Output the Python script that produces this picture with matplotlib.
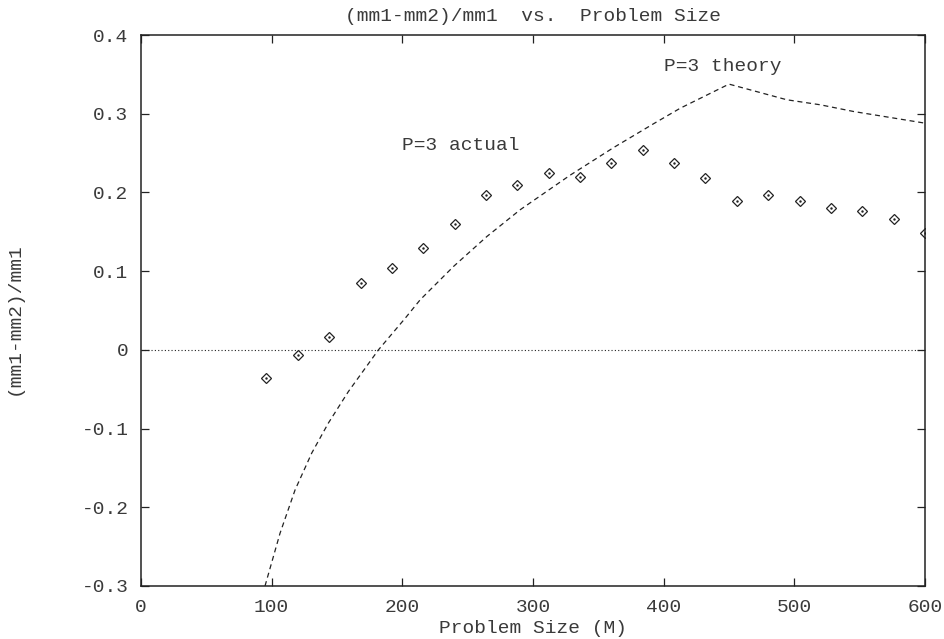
#!/usr/bin/env python3
"""Relative speedup of mm2 over mm1 against problem size, P=3 measured vs model."""
import matplotlib
matplotlib.use("Agg")
import matplotlib.pyplot as plt

# measured runs (problem size in M)
sizes = [96, 120, 144, 168, 192, 216, 240, 264, 288, 312, 336,
         360, 384, 408, 432, 456, 480, 504, 528, 552, 576, 600]
actual = [-0.036, -0.007, 0.016, 0.085, 0.104, 0.130, 0.160, 0.197, 0.209, 0.225, 0.220,
          0.237, 0.254, 0.238, 0.218, 0.189, 0.197, 0.189, 0.180, 0.177, 0.166, 0.149]

# model curve, sampled
theory_x = [94.9, 106.4, 117.9, 130.7, 143.4, 158.7, 181.7, 202.1, 213.6, 239.2, 264.7,
            290.2, 328.5, 361.7, 392, 412.7, 439.5, 450, 494.3, 520, 545.4, 600]
theory_y = [-0.300, -0.233, -0.178, -0.131, -0.093, -0.053, 0.0, 0.040, 0.0635, 0.106, 0.144,
            0.178, 0.222, 0.257, 0.287, 0.307, 0.329, 0.3376, 0.3177, 0.3113, 0.3028, 0.288]

xticks = [0, 100, 200, 300, 400, 500, 600]
yticks = [-0.3, -0.2, -0.1, 0, 0.1, 0.2, 0.3, 0.4]
yticklabels = ["-0.3", "-0.2", "-0.1", "0", "0.1", "0.2", "0.3", "0.4"]

TXT = "#3a3a3a"
INK = "#222222"
plt.rcParams["font.family"] = ["Liberation Mono", "DejaVu Sans Mono"]
plt.rcParams["font.size"] = 14

fig = plt.figure(figsize=(9.45, 6.39), dpi=100)
ax = fig.add_axes([141 / 945, 53 / 639, 784 / 945, 551 / 639])

ax.axhline(0, color=INK, ls=(0, (1, 2)), lw=0.8)
ax.plot(theory_x, theory_y, color=INK, lw=0.9, ls=(0, (4, 3)))
ax.plot(sizes, actual, ls="none", marker="D", ms=4.6, mfc="none", mec=INK, mew=0.9)
ax.plot(sizes, actual, ls="none", marker=".", ms=1.5, color=INK)

ax.text(200, 0.26, "P=3 actual", color=TXT, ha="left", va="center")
ax.text(400, 0.36, "P=3 theory", color=TXT, ha="left", va="center")

ax.set_xlim(0, 600)
ax.set_ylim(-0.3, 0.4)
ax.set_xticks(xticks)
ax.set_yticks(yticks)
ax.set_yticklabels(yticklabels)
ax.tick_params(direction="in", length=5.8, width=0.9, top=True, right=True,
               colors=INK, labelcolor=TXT, pad=9)
for s in ax.spines.values():
    s.set_linewidth(1.1)
    s.set_color(INK)

ax.set_title("(mm1-mm2)/mm1  vs.  Problem Size", color=TXT, fontsize=14, pad=10)
ax.set_xlabel("Problem Size (M)", color=TXT, labelpad=3)
ax.set_ylabel("(mm1-mm2)/mm1", color=TXT)
ax.yaxis.set_label_coords(-0.1505, 0.485)

fig.savefig("out.png", dpi=100)
